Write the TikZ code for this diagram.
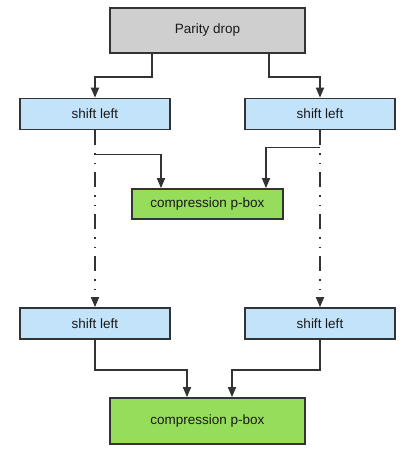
\documentclass[tikz,border=0pt]{standalone}
\usepackage{fontspec}
\setmainfont{Liberation Sans}
\usetikzlibrary{arrows.meta}
\definecolor{lc}{HTML}{333333}
\definecolor{grayfill}{HTML}{CFCFCF}
\definecolor{bluefill}{HTML}{C2E3FA}
\definecolor{greenfill}{HTML}{97DD5C}
\tikzset{
  box/.style={draw=lc, line width=1.7pt, inner sep=0pt, font=\fontsize{13.5}{15}\selectfont, text=black!90},
  graybox/.style={box, fill=grayfill, minimum width=195pt, minimum height=45pt},
  bluebox/.style={box, fill=bluefill, minimum width=150pt, minimum height=31pt},
  greenbox/.style={box, fill=greenfill},
  conn/.style={draw=lc, line width=1.7pt, -{Triangle[length=10pt,width=8pt]}},
  dd/.style={conn, dash pattern=on 15pt off 8pt on 1.5pt off 8pt on 1.5pt off 8pt}
}
\begin{document}
\begin{tikzpicture}[x=1pt,y=-1pt]
\useasboundingbox (0,0) rectangle (404,460);
\node[graybox] (parity) at (207.5,30.5) {Parity drop};
\node[bluebox] (sl1) at (95,114) {shift left};
\node[bluebox] (sl2) at (320,114) {shift left};
\node[greenbox, minimum width=151pt, minimum height=30pt] (cp1) at (207.5,204) {compression p-box};
\node[bluebox] (sl3) at (95,323.5) {shift left};
\node[bluebox] (sl4) at (320,323.5) {shift left};
\node[greenbox, minimum width=195pt, minimum height=46pt] (cp2) at (207.5,421) {compression p-box};

\draw[conn] ([xshift=-55.5pt]parity.south) -- ++(0,23) -| (sl1.north);
\draw[conn] ([xshift=61.5pt]parity.south) -- ++(0,23) -| (sl2.north);
\draw[dd] (sl1.south) -- (sl3.north);
\draw[dd] (sl2.south) -- (sl4.north);
\draw[conn] ([yshift=-24pt]sl1.south) -| ([xshift=-46.5pt]cp1.north);
\draw[conn] ([yshift=-17pt]sl2.south) -| ([xshift=58.5pt]cp1.north);
\draw[conn] (sl3.south) -- ++(0,30) -| ([xshift=-20.5pt]cp2.north);
\draw[conn] (sl4.south) -- ++(0,30) -| ([xshift=24.5pt]cp2.north);
\end{tikzpicture}
\end{document}
